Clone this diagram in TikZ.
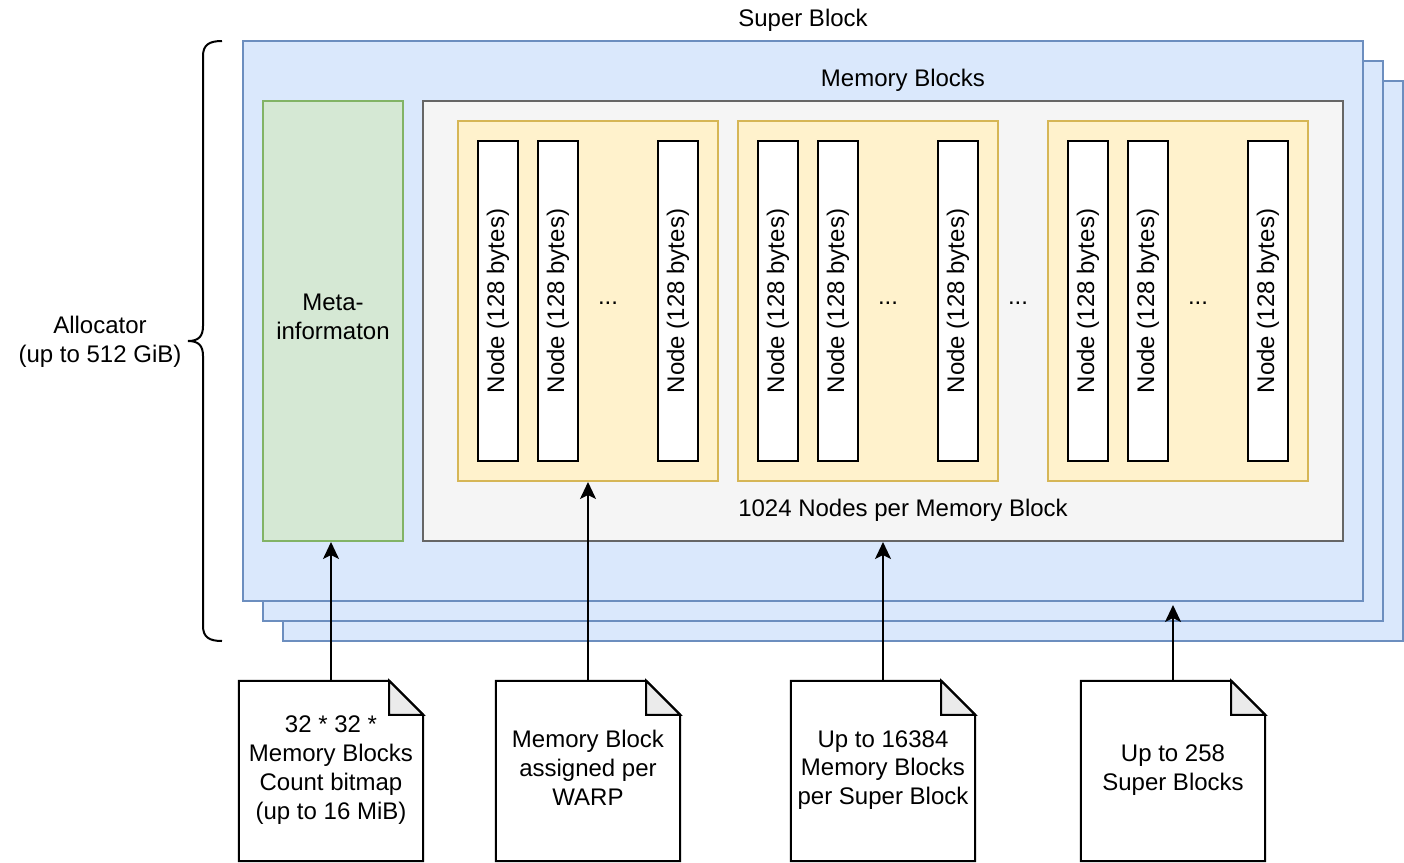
\documentclass[tikz,border=0pt]{standalone}
\usepackage{fontspec}
\setmainfont{Liberation Sans}
\usetikzlibrary{arrows.meta,calc}
\definecolor{sbfill}{HTML}{DAE8FC}
\definecolor{sbline}{HTML}{6C8EBF}
\definecolor{mifill}{HTML}{D5E8D4}
\definecolor{miline}{HTML}{82B366}
\definecolor{ctfill}{HTML}{F5F5F5}
\definecolor{ctline}{HTML}{666666}
\definecolor{mbfill}{HTML}{FFF2CC}
\definecolor{mbline}{HTML}{D6B656}
\definecolor{foldfill}{HTML}{EBEBEB}
\tikzset{
  txt/.style={font=\fontsize{24}{28.8}\selectfont, align=center, inner sep=0pt, text=black},
  superbox/.style={draw=sbline, fill=sbfill, line width=2pt, minimum width=1120pt, minimum height=560pt, inner sep=0pt},
  metabox/.style={draw=miline, fill=mifill, line width=2pt, minimum width=140pt, minimum height=440pt, inner sep=0pt},
  contbox/.style={draw=ctline, fill=ctfill, line width=2pt, minimum width=920pt, minimum height=440pt, inner sep=0pt},
  mblock/.style={draw=mbline, fill=mbfill, line width=2pt, minimum width=260pt, minimum height=360pt, inner sep=0pt},
  noderect/.style={txt, draw=black, fill=white, line width=2pt, rotate=90, minimum width=320pt, minimum height=40pt},
  notebox/.style={txt, minimum width=184pt, minimum height=180pt},
  notebd/.style={draw=black, fill=white, line width=2pt, line join=miter},
  notefold/.style={draw=black, fill=foldfill, line width=2pt, line join=miter},
  arr/.style={line width=2pt, -{Stealth[length=17pt, width=16pt, inset=4pt]}},
  bracestyle/.style={line width=2pt, draw=black}
}
\begin{document}
\begin{tikzpicture}[x=1pt,y=-1pt]
\useasboundingbox (0,0) rectangle (1404,862);
% super blocks
\node[superbox] (sb3) at (843,361) {};
\node[superbox] (sb2) at (823,341) {};
\node[superbox] (sb1) at (803,321) {};
\node[txt] (sblabel) at (803,20) {Super Block};
% meta
\node[metabox] (meta) at (333,321) {};
\node[txt] (metatext) at (333,317) {Meta-\\informaton};
% container
\node[contbox] (cont) at (883,321) {};
\node[txt] (contlabel) at (903,80) {Memory Blocks};
\node[txt] (contnote) at (903,510) {1024 Nodes per Memory Block};
% memory blocks
\node[mblock] (mb1) at (588,301) {};
\node[mblock] (mb2) at (868,301) {};
\node[mblock] (mb3) at (1178,301) {};
% node rects
\node[noderect] (a1) at (498,301) {Node (128 bytes)};
\node[noderect] (a2) at (558,301) {Node (128 bytes)};
\node[noderect] (a3) at (678,301) {Node (128 bytes)};
\node[noderect] (b1) at (778,301) {Node (128 bytes)};
\node[noderect] (b2) at (838,301) {Node (128 bytes)};
\node[noderect] (b3) at (958,301) {Node (128 bytes)};
\node[noderect] (c1) at (1088,301) {Node (128 bytes)};
\node[noderect] (c2) at (1148,301) {Node (128 bytes)};
\node[noderect] (c3) at (1268,301) {Node (128 bytes)};
\node[txt] (d1) at (608,303) {...};
\node[txt] (d2) at (888,303) {...};
\node[txt] (d3) at (1018,303) {...};
\node[txt] (d4) at (1198,303) {...};
% brace and allocator
\draw[bracestyle] (222,41) .. controls (209,41) and (203,45) .. (203,56) -- (203,326)
  .. controls (203,336) and (199,341) .. (188,341)
  .. controls (199,341) and (203,346) .. (203,356) -- (203,626)
  .. controls (203,637) and (209,641) .. (222,641);
\node[txt] (alloc) at (100,342) {Allocator\\(up to 512 GiB)};
% notes
\node[notebox] (n1) at (331,771) {};
\node[notebox] (n2) at (588,771) {};
\node[notebox] (n3) at (883,771) {};
\node[notebox] (n4) at (1173,771) {};
\foreach \n in {n1,n2,n3,n4}{
  \draw[notebd] (\n.north west) -- ([xshift=-34pt]\n.north east) -- ([yshift=-34pt]\n.north east) -- (\n.south east) -- (\n.south west) -- cycle;
  \draw[notefold] ([xshift=-34pt]\n.north east) -- ([xshift=-34pt,yshift=-34pt]\n.north east) -- ([yshift=-34pt]\n.north east) -- cycle;
}
\node[txt] (t1) at (331,770) {32 * 32 *\\Memory Blocks\\Count bitmap\\(up to 16 MiB)};
\node[txt] (t2) at (588,768) {Memory Block\\assigned per\\WARP};
\node[txt] (t3) at (883,770) {Up to 16384\\Memory Blocks\\per Super Block};
\node[txt] (t4) at (1173,770) {Up to 258\\Super Blocks};
% arrows
\coordinate (sbend) at (1173,605);
\draw[arr] (n1.north) -- (n1.north |- meta.south);
\draw[arr] (n2.north) -- (mb1.south);
\draw[arr] (n3.north) -- (cont.south);
\draw[arr] (n4.north) -- (sbend);
\end{tikzpicture}
\end{document}
